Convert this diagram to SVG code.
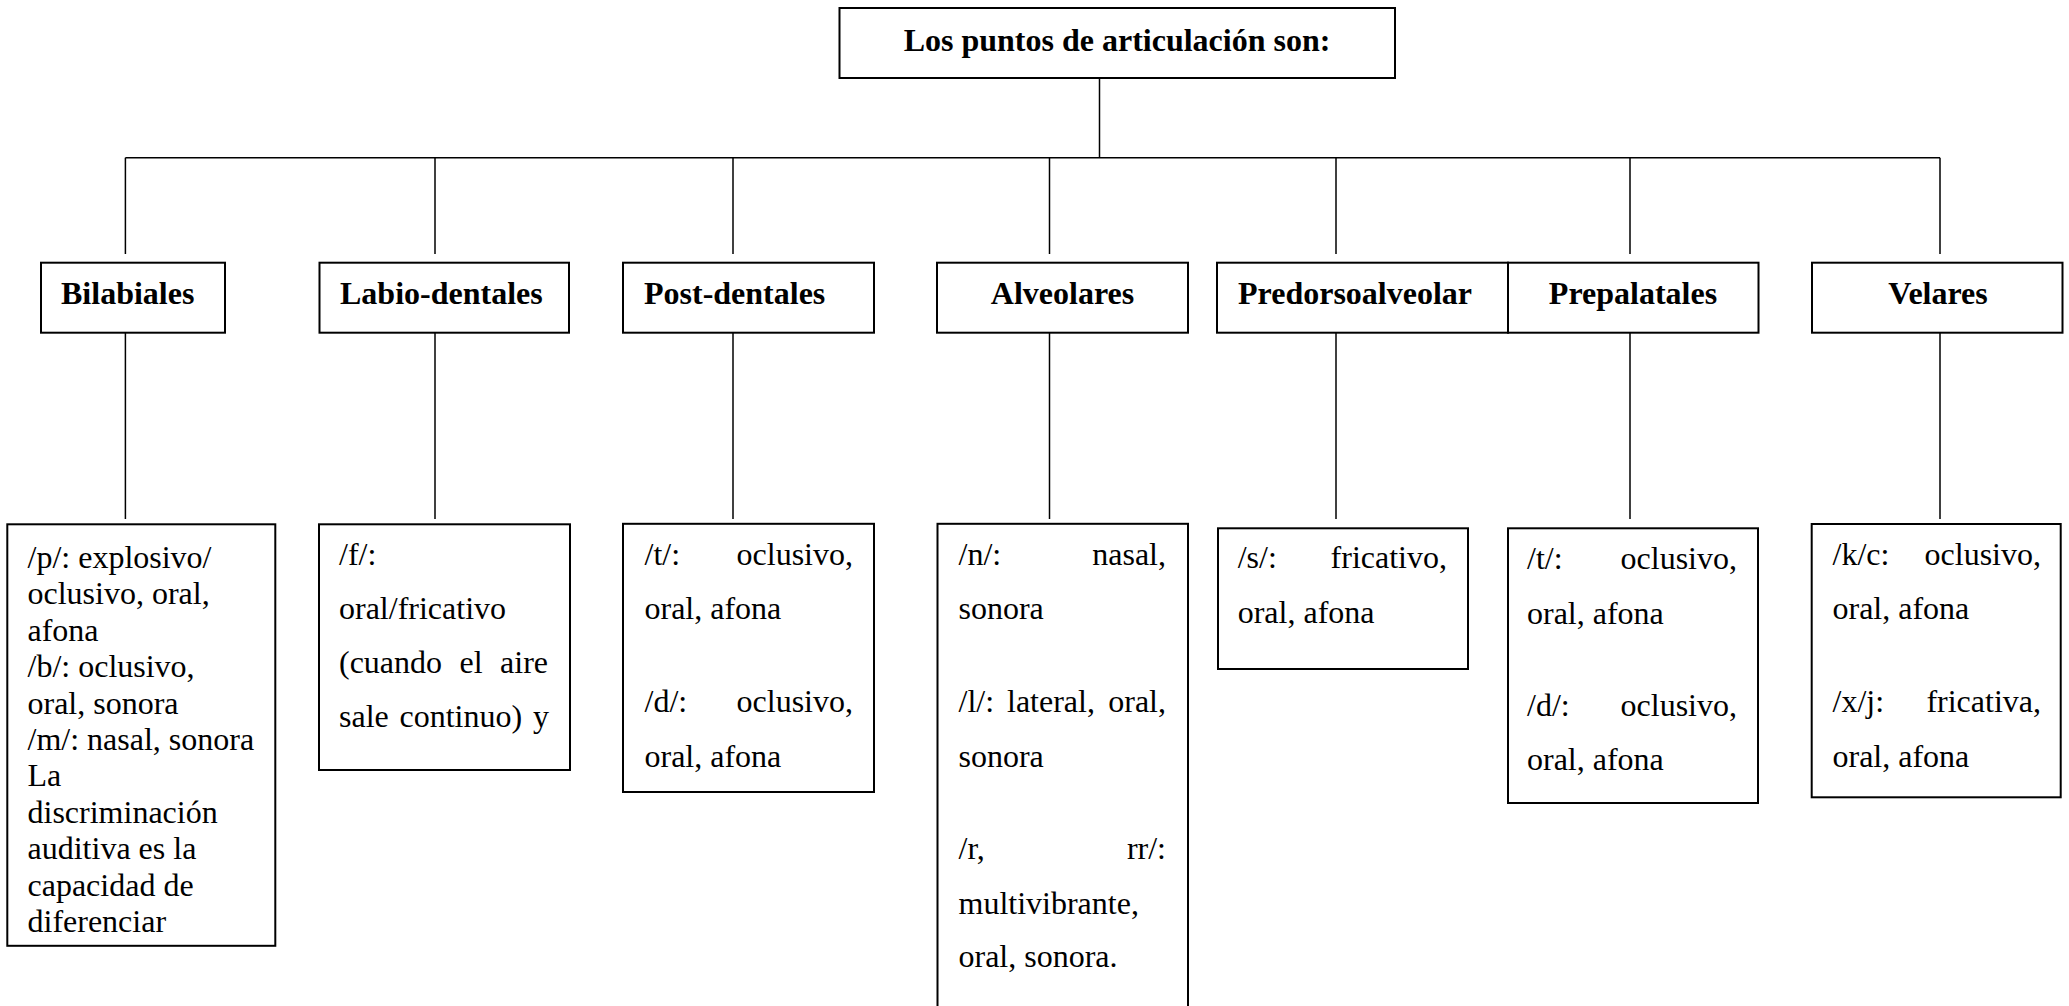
<svg xmlns="http://www.w3.org/2000/svg" width="2069" height="1006" viewBox="0 0 2069 1006">
<style>
  .box { fill: #ffffff; stroke: #000000; stroke-width: 2; }
  .conn { fill: none; stroke: #000000; stroke-width: 1.5; }
  .t { font-family: "Liberation Serif", "Times New Roman", serif; font-size: 32px; fill: #000000; }
  .b { font-weight: bold; }
  .m { text-anchor: middle; }
  .e { text-anchor: end; }
</style>
<rect x="0" y="0" width="2069" height="1006" fill="#ffffff"/>

<g id="connectors">
  <line class="conn" x1="1099.5" y1="78" x2="1099.5" y2="157.7"/>
  <line class="conn" x1="125.4" y1="157.7" x2="1940" y2="157.7"/>
  <line class="conn" x1="125.4" y1="157.7" x2="125.4" y2="254"/>
  <line class="conn" x1="435" y1="157.7" x2="435" y2="254"/>
  <line class="conn" x1="733" y1="157.7" x2="733" y2="254"/>
  <line class="conn" x1="1049.5" y1="157.7" x2="1049.5" y2="254"/>
  <line class="conn" x1="1336" y1="157.7" x2="1336" y2="254"/>
  <line class="conn" x1="1630" y1="157.7" x2="1630" y2="254"/>
  <line class="conn" x1="1940" y1="157.7" x2="1940" y2="254"/>
  <line class="conn" x1="125.4" y1="332.7" x2="125.4" y2="519"/>
  <line class="conn" x1="435" y1="332.7" x2="435" y2="519"/>
  <line class="conn" x1="733" y1="332.7" x2="733" y2="519"/>
  <line class="conn" x1="1049.5" y1="332.7" x2="1049.5" y2="519"/>
  <line class="conn" x1="1336" y1="332.7" x2="1336" y2="519"/>
  <line class="conn" x1="1630" y1="332.7" x2="1630" y2="519"/>
  <line class="conn" x1="1940" y1="332.7" x2="1940" y2="519"/>
</g>

<g id="title">
  <rect class="box" x="839.5" y="8" width="555.5" height="70"/>
  <text class="t b m" x="1117" y="51">Los puntos de articulación son:</text>
</g>

<g id="bilabiales">
  <rect class="box" x="41" y="262.7" width="184" height="70"/>
  <text class="t b" x="61" y="304">Bilabiales</text>
</g>
<g id="labiodentales">
  <rect class="box" x="319.5" y="262.7" width="249.5" height="70"/>
  <text class="t b" x="340" y="304">Labio-dentales</text>
</g>
<g id="postdentales">
  <rect class="box" x="623" y="262.7" width="251" height="70"/>
  <text class="t b" x="644" y="304">Post-dentales</text>
</g>
<g id="alveolares">
  <rect class="box" x="937" y="262.7" width="251" height="70"/>
  <text class="t b m" x="1062.5" y="304">Alveolares</text>
</g>
<g id="predorsoalveolar">
  <rect class="box" x="1217" y="262.7" width="291" height="70"/>
  <text class="t b" x="1238" y="304">Predorsoalveolar</text>
</g>
<g id="prepalatales">
  <rect class="box" x="1508" y="262.7" width="250.5" height="70"/>
  <text class="t b m" x="1633" y="304">Prepalatales</text>
</g>
<g id="velares">
  <rect class="box" x="1812" y="262.7" width="250.5" height="70"/>
  <text class="t b m" x="1938" y="304">Velares</text>
</g>

<g id="bilabiales-detalle">
  <rect class="box" x="7.3" y="524.3" width="268" height="421.5"/>
  <text class="t" x="27.5" y="568">/p/: explosivo/</text>
  <text class="t" x="27.5" y="604.4">oclusivo, oral,</text>
  <text class="t" x="27.5" y="640.8">afona</text>
  <text class="t" x="27.5" y="677.2">/b/: oclusivo,</text>
  <text class="t" x="27.5" y="713.6">oral, sonora</text>
  <text class="t" x="27.5" y="750">/m/: nasal, sonora</text>
  <text class="t" x="27.5" y="786.4">La</text>
  <text class="t" x="27.5" y="822.8">discriminación</text>
  <text class="t" x="27.5" y="859.2">auditiva es la</text>
  <text class="t" x="27.5" y="895.6">capacidad de</text>
  <text class="t" x="27.5" y="932">diferenciar</text>
</g>

<g id="labiodentales-detalle">
  <rect class="box" x="319" y="524.3" width="251" height="245.7"/>
  <text class="t" x="339" y="565">/f/:</text>
  <text class="t" x="339" y="619">oral/fricativo</text>
  <text class="t" x="339" y="673">(cuando</text>
  <text class="t" x="459.5" y="673">el</text>
  <text class="t e" x="548" y="673">aire</text>
  <text class="t" x="339" y="727">sale</text>
  <text class="t" x="399.5" y="727">continuo)</text>
  <text class="t e" x="549" y="727">y</text>
</g>

<g id="postdentales-detalle">
  <rect class="box" x="623" y="523.8" width="251" height="268.2"/>
  <text class="t" x="644.5" y="565">/t/:</text>
  <text class="t e" x="853" y="565">oclusivo,</text>
  <text class="t" x="644.5" y="619">oral, afona</text>
  <text class="t" x="644.5" y="712">/d/:</text>
  <text class="t e" x="853" y="712">oclusivo,</text>
  <text class="t" x="644.5" y="766.5">oral, afona</text>
</g>

<g id="alveolares-detalle">
  <rect class="box" x="937.5" y="523.8" width="250.5" height="490"/>
  <text class="t" x="958.5" y="565">/n/:</text>
  <text class="t e" x="1166" y="565">nasal,</text>
  <text class="t" x="958.5" y="619">sonora</text>
  <text class="t" x="958.5" y="712">/l/:</text>
  <text class="t" x="1007" y="712">lateral,</text>
  <text class="t e" x="1166" y="712">oral,</text>
  <text class="t" x="958.5" y="766.5">sonora</text>
  <text class="t" x="958.5" y="859">/r,</text>
  <text class="t e" x="1166" y="859">rr/:</text>
  <text class="t" x="958.5" y="913.5">multivibrante,</text>
  <text class="t" x="958.5" y="967">oral, sonora.</text>
</g>

<g id="predorsoalveolar-detalle">
  <rect class="box" x="1218" y="528.3" width="250" height="140.7"/>
  <text class="t" x="1237.7" y="568">/s/:</text>
  <text class="t e" x="1447" y="568">fricativo,</text>
  <text class="t" x="1237.7" y="622.5">oral, afona</text>
</g>

<g id="prepalatales-detalle">
  <rect class="box" x="1508" y="528.3" width="250" height="274.7"/>
  <text class="t" x="1527" y="569">/t/:</text>
  <text class="t e" x="1737" y="569">oclusivo,</text>
  <text class="t" x="1527" y="623.5">oral, afona</text>
  <text class="t" x="1527" y="716">/d/:</text>
  <text class="t e" x="1737" y="716">oclusivo,</text>
  <text class="t" x="1527" y="770">oral, afona</text>
</g>

<g id="velares-detalle">
  <rect class="box" x="1811.7" y="524" width="249" height="273.3"/>
  <text class="t" x="1832.5" y="565">/k/c:</text>
  <text class="t e" x="2041" y="565">oclusivo,</text>
  <text class="t" x="1832.5" y="619.3">oral, afona</text>
  <text class="t" x="1832.5" y="711.7">/x/j:</text>
  <text class="t e" x="2041" y="711.7">fricativa,</text>
  <text class="t" x="1832.5" y="766.7">oral, afona</text>
</g>
</svg>
